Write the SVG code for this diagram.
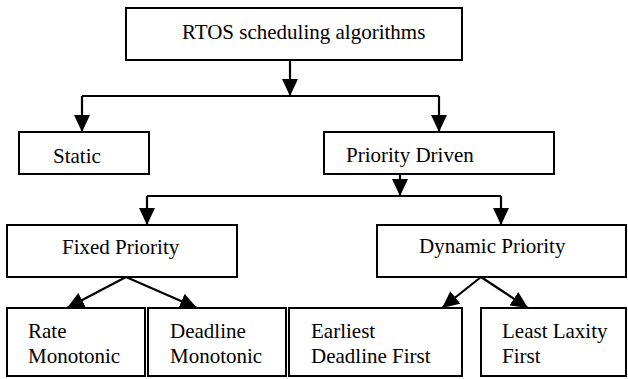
<svg xmlns="http://www.w3.org/2000/svg" width="628" height="379" viewBox="0 0 628 379">
<style>
  .box { fill: #fff; stroke: #000; stroke-width: 2; }
  .t { font-family: 'Liberation Serif', 'Times New Roman', 'DejaVu Serif', serif; font-size: 21px; fill: #000; }
  .c { fill: none; stroke: #000; stroke-width: 2.2; }
</style>
<defs>
  <marker id="ah" markerUnits="userSpaceOnUse" markerWidth="18" markerHeight="16" viewBox="0 0 18 16" refX="17" refY="8" orient="auto">
    <path d="M0,0 L17,8 L0,16 Z" fill="#000"/>
  </marker>
</defs>
<rect width="628" height="379" fill="#fff"/>
<g id="connectors">
  <line class="c" x1="290" y1="60" x2="290" y2="96" marker-end="url(#ah)"/>
  <line class="c" x1="82" y1="96" x2="439" y2="96"/>
  <line class="c" x1="82" y1="96" x2="82" y2="132" marker-end="url(#ah)"/>
  <line class="c" x1="439" y1="96" x2="439" y2="132" marker-end="url(#ah)"/>
  <line class="c" x1="400" y1="174" x2="400" y2="196" marker-end="url(#ah)"/>
  <line class="c" x1="147" y1="196" x2="501" y2="196"/>
  <line class="c" x1="147" y1="196" x2="147" y2="225" marker-end="url(#ah)"/>
  <line class="c" x1="501" y1="196" x2="501" y2="225" marker-end="url(#ah)"/>
  <line class="c" x1="126" y1="277" x2="67" y2="308" marker-end="url(#ah)"/>
  <line class="c" x1="126" y1="277" x2="197" y2="308" marker-end="url(#ah)"/>
  <line class="c" x1="481" y1="277" x2="442" y2="308" marker-end="url(#ah)"/>
  <line class="c" x1="481" y1="277" x2="528" y2="308" marker-end="url(#ah)"/>
</g>
<g id="rtos">
  <rect class="box" x="126" y="8" width="336" height="52"/>
  <text class="t" font-family="Liberation Serif, serif" x="182" y="39">RTOS scheduling algorithms</text>
</g>
<g id="static">
  <rect class="box" x="19" y="132" width="130" height="42"/>
  <text class="t" font-family="Liberation Serif, serif" x="53" y="163">Static</text>
</g>
<g id="priority-driven">
  <rect class="box" x="324" y="132" width="230" height="42"/>
  <text class="t" font-family="Liberation Serif, serif" x="346" y="162">Priority Driven</text>
</g>
<g id="fixed-priority">
  <rect class="box" x="7" y="225" width="230" height="52"/>
  <text class="t" font-family="Liberation Serif, serif" x="62" y="254">Fixed Priority</text>
</g>
<g id="dynamic-priority">
  <rect class="box" x="377" y="225" width="249" height="52"/>
  <text class="t" font-family="Liberation Serif, serif" x="419" y="253">Dynamic Priority</text>
</g>
<g id="rate-monotonic">
  <rect class="box" x="7" y="308" width="138" height="68"/>
  <text class="t" font-family="Liberation Serif, serif" x="28" y="338">Rate</text>
  <text class="t" font-family="Liberation Serif, serif" x="28" y="363">Monotonic</text>
</g>
<g id="deadline-monotonic">
  <rect class="box" x="148" y="308" width="138" height="68"/>
  <text class="t" font-family="Liberation Serif, serif" x="170" y="338">Deadline</text>
  <text class="t" font-family="Liberation Serif, serif" x="170" y="363">Monotonic</text>
</g>
<g id="edf">
  <rect class="box" x="289" y="308" width="173" height="68"/>
  <text class="t" font-family="Liberation Serif, serif" x="311" y="338">Earliest</text>
  <text class="t" font-family="Liberation Serif, serif" x="311" y="363">Deadline First</text>
</g>
<g id="llf">
  <rect class="box" x="481" y="308" width="145" height="68"/>
  <text class="t" font-family="Liberation Serif, serif" x="502" y="338">Least Laxity</text>
  <text class="t" font-family="Liberation Serif, serif" x="502" y="363">First</text>
</g>
</svg>
